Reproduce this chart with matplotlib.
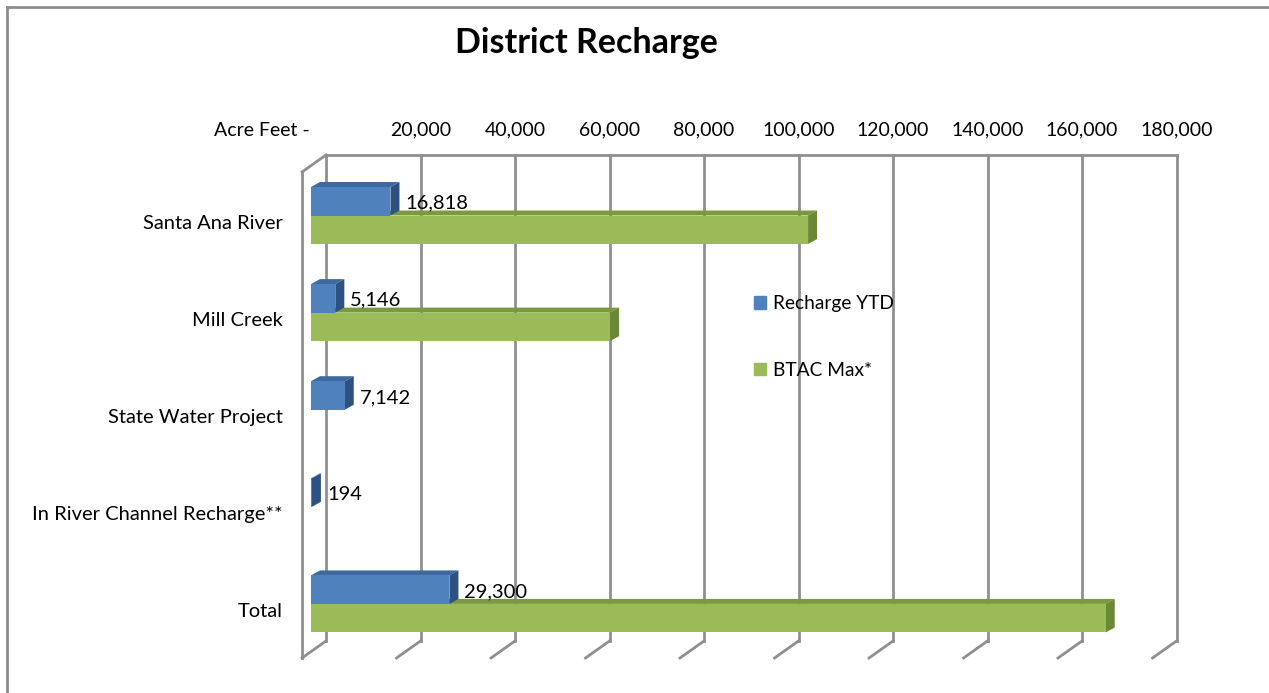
import numpy as np
import matplotlib.pyplot as plt
from matplotlib.patches import Polygon, Patch
from matplotlib.lines import Line2D

# data
categories = ['Santa Ana River', 'Mill Creek', 'State Water Project',
              'In River Channel Recharge**', 'Total']
recharge_ytd = [16818, 5146, 7142, 194, 29300]
btac_max = [105200, 63300, 0, 0, 168200]
ticks = np.arange(20000, 180001, 20000)
tick_labels = [f'{t:,}' for t in ticks]

plt.rcParams['font.family'] = ['Lato', 'DejaVu Sans']

W, H = 1269, 693
fig = plt.figure(figsize=(W / 100, H / 100), dpi=100)

# front plane of the bars, in pixels: x 311..1161.5, y 172..658
ax = fig.add_axes([311 / W, 1 - 658 / H, 850.5 / W, 486 / H])
xmax = 180000
ytop, ybot = -0.448, 4.557
ax.set_xlim(0, xmax)
ax.set_ylim(ybot, ytop)
ax.axis('off')

sx = 850.5 / xmax          # px per acre foot
sy = 486 / (ybot - ytop)   # px per category

grid_c = '#8f8f8f'
bx, by = 15 / sx, -17 / sy   # back wall offset
fx = -9 / sx                 # front floor edge offset

# back wall gridlines + floor diagonals
for v in np.concatenate([[0], ticks]):
    ax.plot([v + bx, v + bx], [ytop + by, ybot + by], color=grid_c, lw=2, zorder=1, clip_on=False)
    ax.plot([v + bx, v + fx], [ybot + by, ybot], color=grid_c, lw=2, zorder=1, clip_on=False)
ax.plot([bx, xmax + bx], [ytop + by, ytop + by], color=grid_c, lw=2, zorder=1, clip_on=False)
ax.plot([fx, fx], [ytop, ybot], color=grid_c, lw=2, zorder=1, clip_on=False)
ax.plot([fx, bx], [ytop, ytop + by], color=grid_c, lw=2, zorder=1, clip_on=False)

# bars with fake depth
h = 28.5 / sy
dx, dy = 9 / sx, -5 / sy
y = np.arange(len(categories))
series = [
    (recharge_ytd, y - h / 2, '#4f81bd', '#3e6a9f', '#2d5282', 5),
    (btac_max, y + h / 2, '#9bbb59', '#7a9a3e', '#6a8835', 3),
]
for vals, ys, c_front, c_top, c_side, z in series:
    for v, yc in zip(vals, ys):
        if v <= 0:
            continue
        t, b = yc - h / 2, yc + h / 2
        ax.add_patch(Polygon([(0, t), (v, t), (v + dx, t + dy), (dx, t + dy)],
                             closed=True, fc=c_top, ec='none', zorder=z, clip_on=False))
        ax.add_patch(Polygon([(v, t), (v + dx, t + dy), (v + dx, b + dy), (v, b)],
                             closed=True, fc=c_side, ec='none', zorder=z, clip_on=False))
    ax.barh(ys, vals, height=h, color=c_front, zorder=z + 0.5, clip_on=False)

fs = 14.5

# data labels for recharge
for v, yc in zip(recharge_ytd, y - h / 2):
    ax.text(v + 15 / sx, yc + 2 / sy, f'{v:,}', ha='left', va='center',
            fontsize=fs, zorder=10)

# category labels
for i, cat in enumerate(categories):
    ax.text(-28 / sx, i + 8 / sy, cat, ha='right', va='center', fontsize=fs)

# top axis labels
ty = ytop + by - 25 / sy
for t, lab in zip(ticks, tick_labels):
    ax.text(t + bx, ty, lab, ha='center', va='center', fontsize=14, clip_on=False)
ax.text(-1 / sx, ty, 'Acre Feet -', ha='right', va='center', fontsize=14)

fig.text(586 / W, 1 - 43 / H, 'District Recharge', ha='center', va='center',
         fontsize=24.5, fontweight='bold')

handles = [Patch(color='#4f81bd'), Patch(color='#9bbb59')]
fig.legend(handles, ['Recharge YTD', 'BTAC Max*'], loc='upper left',
           bbox_to_anchor=(737 / W, 1 - 278 / H), frameon=False, fontsize=13.8,
           labelspacing=2.6, handlelength=0.6, handleheight=0.6, handletextpad=0.4)

# outer chart border (top and left only visible)
fig.add_artist(Line2D([7 / W, 1], [1 - 7 / H, 1 - 7 / H], color='#8c8c8c', lw=2))
fig.add_artist(Line2D([7 / W, 7 / W], [0, 1 - 7 / H], color='#8c8c8c', lw=2))

fig.savefig('out.png', dpi=100)
